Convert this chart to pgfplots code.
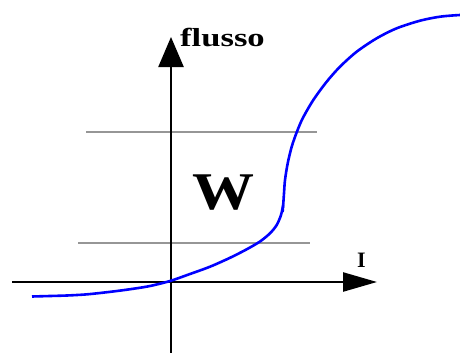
\documentclass[border=0pt]{standalone}
\usepackage{pgfplots}
\pgfplotsset{compat=1.18}
\usetikzlibrary{arrows.meta}
\usepackage{fontspec}
\setmainfont{Liberation Serif}
\definecolor{gline}{RGB}{150,150,150}
\begin{document}
\begin{tikzpicture}
\begin{axis}[
  x=1pt, y=1pt, y dir=reverse,
  xmin=0, xmax=460, ymin=0, ymax=353,
  hide axis, clip=true,
  scale only axis,
]
\path (rel axis cs:0,0) rectangle (rel axis cs:1,1);
% gray lines
\addplot[gline, line width=1.1pt] coordinates {(86,132) (317,132)};
\addplot[gline, line width=1.1pt] coordinates {(78,243) (310,243)};
% axes
\addplot[black, line width=2.4pt, -{Triangle[length=34pt,width=19pt]}] coordinates {(12,282) (377,282)};
\addplot[black, line width=2.4pt, -{Triangle[length=30pt,width=25pt]}] coordinates {(171,353) (171,37)};
% curve
\addplot[blue, line width=2.6pt, smooth] coordinates {
 (32,296.5) (50,296) (67,295.5) (85,294.5) (100,293) (117,291) (133,288.8) (150,286) (170,281)
 (190,274) (210,266.7) (230,257.8) (246.7,249.3) (260,241.5) (270,233.3) (276.7,225) (281,215) (283.2,205)};
\addplot[blue, line width=2.6pt, smooth] coordinates {
 (282.6,212) (283.3,203.3) (284,193.3) (285,180) (287.7,163.3) (291.7,146.7) (296.7,132.3) (302.7,118.3)
 (313.3,100) (326.7,81.7) (340,66.7) (356.7,51.7) (376.7,38.3) (396.7,28.3) (420,20.7)
 (440,16.7) (460,15) (470,15)};
% labels
\node[anchor=base west, inner sep=0pt] at (axis cs:180,46) {\scalebox{1.33}[1]{\fontsize{26}{26}\selectfont\bfseries flusso}};
\node[anchor=base west, inner sep=0pt] at (axis cs:192,209) {\scalebox{1.17}[1]{\fontsize{53}{53}\selectfont\bfseries W}};
\node[anchor=base west, inner sep=0pt] at (axis cs:357,267) {\fontsize{22}{22}\selectfont\bfseries I};
\end{axis}
\end{tikzpicture}
\end{document}
